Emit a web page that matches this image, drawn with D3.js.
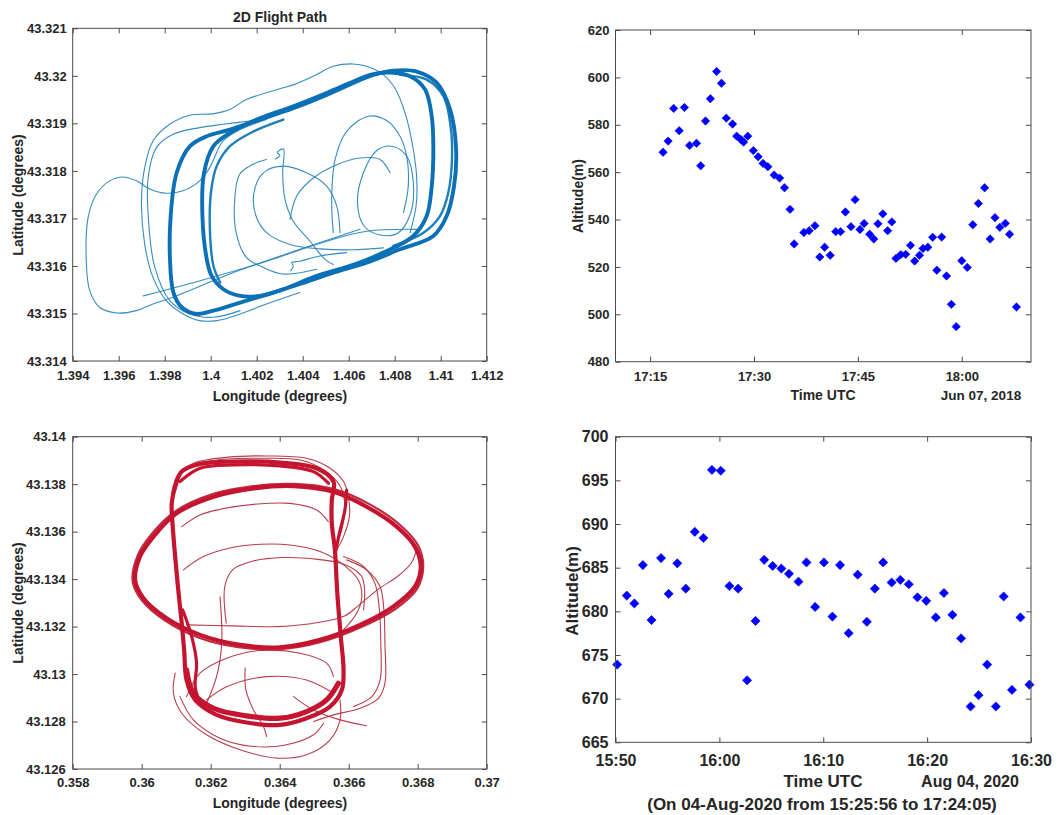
<!DOCTYPE html>
<html><head><meta charset="utf-8">
<script src="https://cdn.jsdelivr.net/npm/d3@7"></script>
<style>html,body{margin:0;padding:0;background:#fff;} svg{display:block;}</style>
</head><body><svg id="chart" width="1060" height="815"></svg>
<script>
// ================= DATA =================
// --- Flight 1 (top-left) axis ticks ---
const flight1LonTicks = [1.394,1.396,1.398,1.400,1.402,1.404,1.406,1.408,1.410,1.412];
const flight1LatTicks = [43.314,43.315,43.316,43.317,43.318,43.319,43.320,43.321];
// --- Flight 1 traces [lon, lat] ---
const blueLoopInner = [[1.39983,43.31614],[1.39964,43.31705],[1.39971,43.31796],[1.40012,43.31852],[1.40084,43.31880],[1.40200,43.31908],[1.40359,43.31936],[1.40504,43.31964],[1.40620,43.31988],[1.40693,43.32002],[1.40780,43.32007],[1.40867,43.31999],[1.40932,43.31971],[1.40961,43.31915],[1.40968,43.31845],[1.40961,43.31768],[1.40939,43.31705],[1.40881,43.31663],[1.40751,43.31628],[1.40606,43.31600],[1.40461,43.31579],[1.40316,43.31551],[1.40214,43.31537],[1.40128,43.31537],[1.40055,43.31551],[1.40004,43.31579]];
const blueLoopOuter = [[1.39838,43.31544],[1.39823,43.31614],[1.39826,43.31705],[1.39852,43.31796],[1.39910,43.31852],[1.39983,43.31873],[1.40084,43.31887],[1.40214,43.31908],[1.40359,43.31932],[1.40504,43.31960],[1.40620,43.31985],[1.40707,43.32002],[1.40794,43.32011],[1.40896,43.32009],[1.40983,43.31985],[1.41041,43.31929],[1.41067,43.31845],[1.41058,43.31768],[1.41026,43.31705],[1.40968,43.31663],[1.40823,43.31635],[1.40678,43.31607],[1.40533,43.31586],[1.40388,43.31562],[1.40272,43.31544],[1.40128,43.31523],[1.40012,43.31506],[1.39939,43.31499],[1.39874,43.31513]];
const blueInnerWest = [[1.40041,43.31565],[1.40012,43.31600],[1.39997,43.31670],[1.40001,43.31754],[1.40026,43.31810],[1.40084,43.31852],[1.40186,43.31883],[1.40316,43.31908]];
const blueOuterEast = [[1.40823,43.32002],[1.40939,43.31992],[1.41012,43.31957],[1.41043,43.31894],[1.41049,43.31824],[1.41033,43.31754],[1.40997,43.31705],[1.40925,43.31670],[1.40794,43.31642]];
const blueWideLoop = [[1.40867,43.31670],[1.40893,43.31726],[1.40896,43.31782],[1.40881,43.31845],[1.40845,43.31922],[1.40801,43.31974],[1.40751,43.32002],[1.40678,43.32020],[1.40619,43.32025],[1.40533,43.32020],[1.40446,43.31999],[1.40359,43.31981],[1.40315,43.31975],[1.40155,43.31950],[1.40083,43.31929],[1.40010,43.31920],[1.39909,43.31917],[1.39822,43.31898],[1.39749,43.31863],[1.39713,43.31807],[1.39699,43.31737],[1.39713,43.31646],[1.39749,43.31576],[1.39807,43.31527],[1.39880,43.31499],[1.39952,43.31485],[1.40026,43.31485],[1.40128,43.31499],[1.40243,43.31520],[1.40388,43.31544]];
const blueWestLoop = [[1.40649,43.31677],[1.40388,43.31635],[1.40099,43.31586],[1.39836,43.31534],[1.39749,43.31520],[1.39677,43.31506],[1.39590,43.31501],[1.39517,43.31513],[1.39474,43.31548],[1.39459,43.31611],[1.39467,43.31702],[1.39503,43.31751],[1.39561,43.31779],[1.39619,43.31787],[1.39677,43.31779],[1.39735,43.31762],[1.39807,43.31753],[1.39880,43.31758],[1.39952,43.31779],[1.39996,43.31807],[1.40054,43.31863],[1.40128,43.31887],[1.40243,43.31908]];
const blueMidLoop = [[1.40170,43.31905],[1.40054,43.31898],[1.39952,43.31891],[1.39836,43.31877],[1.39764,43.31849],[1.39728,43.31786],[1.39732,43.31681],[1.39757,43.31597],[1.39822,43.31527],[1.39909,43.31499],[1.40012,43.31492],[1.40128,43.31506]];
const blueCentreOval = [[1.40562,43.31670],[1.40548,43.31726],[1.40504,43.31768],[1.40417,43.31796],[1.40316,43.31810],[1.40229,43.31796],[1.40188,43.31754],[1.40197,43.31705],[1.40243,43.31670],[1.40345,43.31645],[1.40475,43.31636],[1.40620,43.31634],[1.40751,43.31638]];
const blueCentreDrop = [[1.40280,43.31825],[1.40301,43.31832],[1.40290,43.31839],[1.40316,43.31846],[1.40313,43.31796],[1.40323,43.31740],[1.40359,43.31694],[1.40432,43.31652],[1.40497,43.31614],[1.40533,43.31603]];
const blueCentreArc = [[1.40345,43.31698],[1.40374,43.31747],[1.40446,43.31785],[1.40548,43.31813],[1.40649,43.31827],[1.40736,43.31824],[1.40780,43.31796]];
const blueEastCircle = [[1.40664,43.31796],[1.40722,43.31843],[1.40787,43.31852],[1.40852,43.31831],[1.40881,43.31775],[1.40870,43.31712],[1.40816,43.31670],[1.40736,43.31665],[1.40667,43.31684],[1.40638,43.31733]];
const blueNorthLoop = [[1.40533,43.31670],[1.40526,43.31740],[1.40541,43.31824],[1.40591,43.31883],[1.40686,43.31915],[1.40765,43.31906],[1.40823,43.31873],[1.40852,43.31831],[1.40859,43.31768],[1.40838,43.31712]];
const blueDiagonal = [[1.39707,43.31537],[1.39954,43.31569],[1.40243,43.31610],[1.40504,43.31652],[1.40678,43.31673],[1.40896,43.31677]];
const blueSouthJag = [[1.40348,43.31590],[1.40359,43.31600],[1.40353,43.31607],[1.40388,43.31610],[1.40475,43.31621],[1.40591,43.31628]];
const blueInnerCurve = [[1.40243,43.31824],[1.40184,43.31814],[1.40126,43.31793],[1.40104,43.31737],[1.40112,43.31667],[1.40155,43.31618],[1.40228,43.31597],[1.40315,43.31583],[1.40461,43.31593]];

// --- Flight 2 (bottom-left) axis ticks ---
const flight2LonTicks = [0.358,0.360,0.362,0.364,0.366,0.368,0.370];
const flight2LatTicks = [43.126,43.128,43.130,43.132,43.134,43.136,43.138,43.140];
// --- Flight 2 traces [lon, lat] ---
const redEllipse = [[0.35981,43.13396],[0.35995,43.13495],[0.36034,43.13579],[0.36101,43.13677],[0.36208,43.13747],[0.36324,43.13782],[0.36440,43.13792],[0.36556,43.13768],[0.36652,43.13705],[0.36739,43.13621],[0.36792,43.13537],[0.36809,43.13453],[0.36792,43.13368],[0.36729,43.13284],[0.36633,43.13207],[0.36517,43.13144],[0.36401,43.13113],[0.36285,43.13123],[0.36169,43.13165],[0.36072,43.13235],[0.36005,43.13319]];
const redEllipseLap = [[0.35974,43.13389],[0.35987,43.13495],[0.36029,43.13590],[0.36100,43.13688],[0.36208,43.13759],[0.36324,43.13792],[0.36440,43.13801],[0.36560,43.13778],[0.36660,43.13716],[0.36749,43.13628],[0.36802,43.13540],[0.36816,43.13453],[0.36799,43.13361],[0.36734,43.13273],[0.36635,43.13197],[0.36517,43.13134],[0.36401,43.13105],[0.36280,43.13113],[0.36164,43.13154],[0.36068,43.13225],[0.36000,43.13312]];
const redULoop = [[0.36097,43.13789],[0.36116,43.13853],[0.36169,43.13885],[0.36266,43.13895],[0.36401,43.13891],[0.36507,43.13867],[0.36556,43.13811],[0.36551,43.13733],[0.36551,43.13635],[0.36560,43.13523],[0.36567,43.13340],[0.36577,43.13158],[0.36585,43.13018],[0.36580,43.12933],[0.36546,43.12863],[0.36478,43.12814],[0.36401,43.12786],[0.36304,43.12796],[0.36217,43.12828],[0.36155,43.12891],[0.36130,43.12975],[0.36123,43.13102],[0.36116,43.13214],[0.36106,43.13354],[0.36097,43.13495],[0.36090,43.13621],[0.36087,43.13719]];
const redUTop = [[0.36111,43.13811],[0.36169,43.13867],[0.36266,43.13881],[0.36401,43.13877],[0.36498,43.13853],[0.36541,43.13804]];
const redUBottom = [[0.36130,43.13018],[0.36150,43.12919],[0.36208,43.12856],[0.36304,43.12824],[0.36401,43.12814],[0.36478,43.12842],[0.36536,43.12891],[0.36570,43.12961]];
const redWestFunnel = [[0.36119,43.13270],[0.36145,43.13158],[0.36159,43.13046],[0.36155,43.12947],[0.36169,43.12877]];
const redEastFunnel = [[0.36594,43.13775],[0.36589,43.13691],[0.36573,43.13593],[0.36561,43.13509]];
const redTrace1 = [[0.36092,43.13733],[0.36101,43.13832],[0.36150,43.13888],[0.36246,43.13913],[0.36362,43.13919],[0.36478,43.13909],[0.36546,43.13867],[0.36585,43.13811],[0.36599,43.13747],[0.36602,43.13663],[0.36585,43.13579],[0.36565,43.13523]];
const redTrace2 = [[0.36087,43.13691],[0.36092,43.13796],[0.36130,43.13871],[0.36217,43.13902],[0.36343,43.13909],[0.36459,43.13902],[0.36531,43.13857],[0.36575,43.13792],[0.36589,43.13712],[0.36582,43.13621],[0.36567,43.13551]];
const redTrace3 = [[0.36116,43.13621],[0.36169,43.13670],[0.36227,43.13694],[0.36324,43.13715],[0.36430,43.13719],[0.36507,43.13691],[0.36541,43.13642]];
const redTrace4 = [[0.36121,43.13439],[0.36179,43.13495],[0.36266,43.13534],[0.36343,43.13547],[0.36430,43.13544],[0.36517,43.13516],[0.36585,43.13460],[0.36628,43.13396],[0.36638,43.13326],[0.36623,43.13256],[0.36585,43.13186]];
const redTrace5 = [[0.36594,43.13481],[0.36652,43.13439],[0.36691,43.13368],[0.36702,43.13270],[0.36705,43.13130],[0.36705,43.12961],[0.36686,43.12898],[0.36633,43.12856],[0.36556,43.12828],[0.36498,43.12800]];
const redTrace6 = [[0.36585,43.13495],[0.36643,43.13453],[0.36676,43.13382],[0.36689,43.13270],[0.36693,43.13130],[0.36691,43.12975],[0.36667,43.12905],[0.36614,43.12863]];
const redTrace7 = [[0.36797,43.13526],[0.36782,43.13469],[0.36743,43.13413],[0.36685,43.13357],[0.36627,43.13287],[0.36588,43.13245],[0.36511,43.13217],[0.36395,43.13200],[0.36266,43.13203],[0.36130,43.13207]];
const redTrace8 = [[0.36245,43.13214],[0.36241,43.13371],[0.36265,43.13441],[0.36323,43.13476],[0.36410,43.13491],[0.36511,43.13483],[0.36588,43.13462],[0.36637,43.13413],[0.36646,43.13354],[0.36643,43.13270]];
const redTrace9 = [[0.36227,43.13326],[0.36232,43.13130],[0.36217,43.12989],[0.36188,43.12877]];
const redTrace10 = [[0.36130,43.12905],[0.36169,43.13004],[0.36246,43.13067],[0.36343,43.13099],[0.36459,43.13088],[0.36536,43.13046],[0.36556,43.12989]];
const redTrace11 = [[0.36300,43.13025],[0.36302,43.12933],[0.36324,43.12849],[0.36353,43.12779],[0.36362,43.12737]];
const redTrace12 = [[0.36097,43.13004],[0.36092,43.12919],[0.36116,43.12835],[0.36188,43.12744],[0.36285,43.12681],[0.36391,43.12646],[0.36478,43.12660],[0.36546,43.12723],[0.36575,43.12807],[0.36575,43.12891]];
const redTrace13 = [[0.36111,43.12905],[0.36150,43.12807],[0.36227,43.12730],[0.36324,43.12695],[0.36420,43.12702],[0.36498,43.12744],[0.36527,43.12793]];
const redTrace14 = [[0.36440,43.12905],[0.36498,43.12849],[0.36575,43.12807],[0.36652,43.12782]];
const redTrace15 = [[0.36188,43.12891],[0.36246,43.12947],[0.36362,43.12989],[0.36478,43.12975],[0.36556,43.12919]];

// --- Altitude 1 (top-right), 07 Jun 2018 ---
const alt1Date = "2018-06-07";
const alt1Domain = ["17:10:00","18:10:00"];
const alt1TimeTicks = ["17:15:00","17:30:00","17:45:00","18:00:00"];
const alt1AltTicks = [480,500,520,540,560,580,600,620];
const alt1Times = ["17:16:52","17:17:36","17:18:24","17:19:12","17:19:57","17:20:42","17:21:42","17:22:18","17:23:00","17:23:42","17:24:36","17:25:18","17:26:00","17:26:54","17:27:30","17:28:06","17:28:30","17:29:06","17:29:54","17:30:36","17:31:18","17:32:00","17:32:54","17:33:42","17:34:24","17:35:12","17:35:48","17:37:12","17:37:58","17:38:48","17:39:30","17:40:12","17:41:00","17:41:48","17:42:30","17:43:12","17:44:00","17:44:36","17:45:18","17:45:54","17:46:42","17:47:18","17:47:54","17:48:36","17:49:18","17:49:54","17:50:30","17:51:12","17:51:54","17:52:36","17:53:12","17:53:54","17:54:24","17:55:06","17:55:48","17:56:24","17:57:06","17:57:48","17:58:30","17:59:12","18:00:00","18:00:48","18:01:36","18:02:24","18:03:18","18:04:06","18:04:48","18:05:30","18:06:18","18:06:54","18:07:54"];
const alt1Values = [568.4,573.1,586.9,577.5,587.3,571.3,572.2,562.7,581.6,591.0,602.5,597.5,582.8,580.3,575.2,573.8,572.7,575.2,569.1,566.5,563.7,562.3,558.8,557.5,553.4,544.3,529.7,534.5,535.3,537.4,524.2,528.3,524.9,534.9,534.9,543.2,537.0,548.4,535.8,538.3,533.8,531.8,538.2,542.4,535.3,539.0,523.6,525.2,525.3,529.1,522.5,524.9,527.8,528.3,532.5,518.6,532.6,516.2,504.2,494.8,522.6,519.8,537.8,546.8,553.4,531.8,540.8,536.7,538.4,533.8,503.1];

// --- Altitude 2 (bottom-right), 04 Aug 2020 ---
const alt2Date = "2020-08-04";
const alt2Domain = ["15:50:00","16:30:00"];
const alt2TimeTicks = ["15:50:00","16:00:00","16:10:00","16:20:00","16:30:00"];
const alt2AltTicks = [665,670,675,680,685,690,695,700];
const alt2Times = ["15:50:10","15:51:05","15:51:49","15:52:38","15:53:28","15:54:23","15:55:07","15:55:57","15:56:46","15:57:38","15:58:28","15:59:17","16:00:08","16:00:58","16:01:48","16:02:40","16:03:29","16:04:19","16:05:08","16:05:58","16:06:42","16:07:37","16:08:23","16:09:13","16:10:04","16:10:53","16:11:37","16:12:27","16:13:19","16:14:12","16:14:58","16:15:46","16:16:35","16:17:25","16:18:14","16:19:04","16:19:55","16:20:50","16:21:37","16:22:26","16:23:16","16:24:11","16:24:57","16:25:47","16:26:37","16:27:22","16:28:10","16:28:59","16:29:51"];
const alt2Values = [673.9,681.8,680.9,685.3,679.0,686.1,682.0,685.5,682.6,689.1,688.4,696.2,696.1,682.9,682.6,672.1,678.9,685.9,685.2,684.9,684.3,683.4,685.6,680.5,685.6,679.4,685.3,677.5,684.2,678.8,682.6,685.6,683.3,683.6,683.1,681.6,681.2,679.3,682.1,679.6,676.9,669.1,670.4,673.9,669.1,681.7,671.0,679.3,671.6];

// ================= DRAWING =================
const svg = d3.select("#chart");
const FONT = "'Liberation Sans', Arial, Helvetica, sans-serif";
const TXT = "#262626";
const AXC = "#4a4a4a";
const parseT = d3.utcParse("%Y-%m-%d %H:%M:%S");
const trim = v => String(+v.toFixed(4));

function frame(x, y, xTicks, yTicks, xFmt, yFmt, fs, xPad, yPad) {
  const [x0, x1] = x.range(), [y0, y1] = y.range();
  const g = svg.append("g");
  const style = sel => {
    sel.select(".domain").remove();
    sel.selectAll(".tick line").attr("stroke", AXC).attr("stroke-width", 1);
    sel.selectAll(".tick text").attr("fill", TXT).style("font-family", FONT)
       .style("font-size", fs + "px").style("font-weight", "bold");
  };
  g.append("g").attr("transform", `translate(0,${y0})`)
    .call(d3.axisBottom(x).tickValues(xTicks).tickSizeInner(-5).tickSizeOuter(0).tickPadding(xPad).tickFormat(xFmt)).call(style);
  g.append("g").attr("transform", `translate(0,${y1})`)
    .call(d3.axisTop(x).tickValues(xTicks).tickSizeInner(-5).tickSizeOuter(0).tickFormat("")).call(style);
  g.append("g").attr("transform", `translate(${x0},0)`)
    .call(d3.axisLeft(y).tickValues(yTicks).tickSizeInner(-5).tickSizeOuter(0).tickPadding(yPad).tickFormat(yFmt)).call(style);
  g.append("g").attr("transform", `translate(${x1},0)`)
    .call(d3.axisRight(y).tickValues(yTicks).tickSizeInner(-5).tickSizeOuter(0).tickFormat("")).call(style);
  g.append("rect").attr("x", x0).attr("y", y1).attr("width", x1 - x0).attr("height", y0 - y1)
    .attr("fill", "none").attr("stroke", AXC).attr("stroke-width", 1);
}

function label(text, x, y, fs, rotate) {
  const t = svg.append("text").text(text)
    .attr("text-anchor", "middle").attr("fill", TXT)
    .style("font-family", FONT).style("font-size", fs + "px").style("font-weight", "bold");
  if (rotate) t.attr("transform", `translate(${x},${y}) rotate(-90)`).attr("dominant-baseline", "central");
  else t.attr("x", x).attr("y", y);
  return t;
}

function traces(x, y, list, closed, color, width, opacity) {
  const line = d3.line().x(d => x(d[0])).y(d => y(d[1]))
    .curve(closed ? d3.curveCatmullRomClosed.alpha(0.5) : d3.curveCatmullRom.alpha(0.5));
  svg.append("g").selectAll("path").data(list).join("path")
    .attr("d", line).attr("fill", "none").attr("stroke", color)
    .attr("stroke-width", width).attr("stroke-opacity", opacity)
    .attr("stroke-linejoin", "round").attr("stroke-linecap", "round");
}

function diamonds(x, y, times, values, date, r) {
  const pts = times.map((t, i) => [x(parseT(date + " " + t)), y(values[i])]);
  svg.append("g").selectAll("path").data(pts).join("path")
    .attr("d", d => `M${d[0]},${d[1] - r}L${d[0] + r},${d[1]}L${d[0]},${d[1] + r}L${d[0] - r},${d[1]}Z`)
    .attr("fill", "#0000ff").attr("stroke", "#0000ff").attr("stroke-width", 0.6);
}

// ---------- Top-left: 2D flight path (blue) ----------
{
  const x = d3.scaleLinear().domain([1.394, 1.412]).range([72.7, 486.7]);
  const y = d3.scaleLinear().domain([43.314, 43.321]).range([361, 28.3]);
  traces(x, y, [blueWideLoop, blueWestLoop, blueMidLoop, blueCentreOval, blueCentreDrop, blueCentreArc,
                blueNorthLoop, blueDiagonal, blueSouthJag, blueInnerCurve], false, "#2b86bd", 1.1, 0.95);
  traces(x, y, [blueEastCircle], true, "#2b86bd", 1.1, 0.95);
  traces(x, y, [blueInnerWest, blueOuterEast], false, "#1177b8", 2.4, 0.95);
  traces(x, y, [blueLoopInner, blueLoopOuter], true, "#0b70b6", 3.9, 1);
  frame(x, y, flight1LonTicks, flight1LatTicks, trim, trim, 13, 10, 6);
  label("2D Flight Path", 280, 22, 14);
  label("Longitude (degrees)", 280, 401, 14);
  label("Latitude (degrees)", 18, 195, 14, true);
}

// ---------- Bottom-left: 2D flight path (red) ----------
{
  const x = d3.scaleLinear().domain([0.358, 0.370]).range([72.7, 486.7]);
  const y = d3.scaleLinear().domain([43.126, 43.140]).range([769, 436.7]);
  traces(x, y, [redTrace1, redTrace2, redTrace3, redTrace4, redTrace5, redTrace6, redTrace7, redTrace8,
                redTrace9, redTrace10, redTrace11, redTrace12, redTrace13, redTrace14, redTrace15], false, "#b4343f", 1.1, 0.95);
  traces(x, y, [redEllipseLap], true, "#bc1f36", 2.2, 0.95);
  traces(x, y, [redUTop, redWestFunnel, redEastFunnel], false, "#c4142f", 3.2, 1);
  traces(x, y, [redUBottom], false, "#c4142f", 5.2, 1);
  traces(x, y, [redEllipse, redULoop], true, "#c4142f", 4.2, 1);
  frame(x, y, flight2LonTicks, flight2LatTicks, trim, trim, 13, 9, 7);
  label("Longitude (degrees)", 280, 808, 14);
  label("Latitude (degrees)", 18, 603, 14, true);
}

// ---------- Top-right: altitude 2018 ----------
{
  const x = d3.scaleUtc().domain(alt1Domain.map(t => parseT(alt1Date + " " + t))).range([615.5, 1031]);
  const y = d3.scaleLinear().domain([480, 620]).range([361.7, 30]);
  diamonds(x, y, alt1Times, alt1Values, alt1Date, 4.2);
  frame(x, y, alt1TimeTicks.map(t => parseT(alt1Date + " " + t)), alt1AltTicks,
        d3.utcFormat("%H:%M"), d3.format("d"), 13, 10, 6);
  label("Time UTC", 823, 400, 14);
  label("Jun 07, 2018", 981, 400, 13.5);
  label("Altitude(m)", 578, 196, 14, true);
}

// ---------- Bottom-right: altitude 2020 ----------
{
  const x = d3.scaleUtc().domain(alt2Domain.map(t => parseT(alt2Date + " " + t))).range([615.5, 1031]);
  const y = d3.scaleLinear().domain([665, 700]).range([742.3, 436.7]);
  diamonds(x, y, alt2Times, alt2Values, alt2Date, 4.6);
  frame(x, y, alt2TimeTicks.map(t => parseT(alt2Date + " " + t)), alt2AltTicks,
        d3.utcFormat("%H:%M"), d3.format("d"), 16, 12, 7);
  label("Time UTC", 823, 787, 17);
  label("Aug 04, 2020", 970, 787, 16);
  label("(On 04-Aug-2020 from 15:25:56 to 17:24:05)", 822, 810, 17);
  label("Altitude(m)", 572, 591, 17, true);
}
</script>
</body></html>
